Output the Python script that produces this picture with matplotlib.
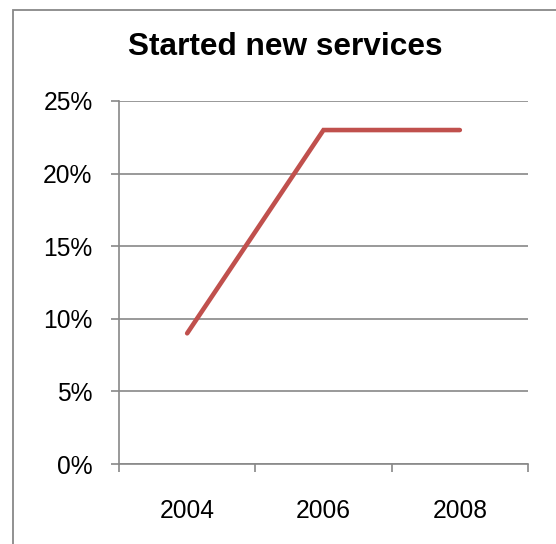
import matplotlib
matplotlib.use("Agg")
import matplotlib.pyplot as plt
import matplotlib.patches as mpatches
from matplotlib.ticker import FixedLocator, PercentFormatter

plt.rcParams["font.family"] = ["Liberation Sans", "DejaVu Sans"]

years = ["2004", "2006", "2008"]
share = [0.09, 0.23, 0.23]
y_ticks = [0.0, 0.05, 0.10, 0.15, 0.20, 0.25]

GRID = "#888888"
LINE = "#C0504D"

fig = plt.figure(figsize=(5.56, 5.44), dpi=100)
ax = fig.add_axes([119 / 556, 1 - 464 / 544, (528 - 119) / 556, (464 - 101) / 544])

x = list(range(len(years)))
ax.plot(x, share, color=LINE, lw=3.3, solid_capstyle="round", solid_joinstyle="miter", zorder=3)

ax.set_xlim(-0.5, len(years) - 0.5)
ax.set_ylim(0, 0.25)

# category boundaries get the tick marks, labels sit at the centres
ax.xaxis.set_major_locator(FixedLocator([i - 0.5 for i in range(len(years) + 1)]))
ax.xaxis.set_minor_locator(FixedLocator(x))
ax.set_xticklabels([])
ax.set_xticklabels(years, minor=True)
ax.tick_params(axis="x", which="major", length=6, width=1.2, color=GRID, direction="out")
ax.tick_params(axis="x", which="minor", length=0, pad=25, labelsize=17.7)

ax.set_yticks(y_ticks)
ax.yaxis.set_major_formatter(PercentFormatter(1.0, decimals=0))
ax.tick_params(axis="y", length=6, width=1.2, color=GRID, pad=13, labelsize=17.7)

ax.grid(axis="y", color=GRID, lw=1.2)
ax.set_axisbelow(True)
for s in ("top", "right"):
    ax.spines[s].set_visible(False)
for s in ("left", "bottom"):
    ax.spines[s].set_color(GRID)
    ax.spines[s].set_linewidth(1.2)

fig.text(285 / 556, 1 - 47 / 544, "Started new services", ha="center", va="center",
         fontsize=22.8, fontweight="bold")

# outer chart border (runs off the right and bottom edges)
border = mpatches.Rectangle((13 / 556, -0.1), 2, 1 - 10 / 544 + 0.1, transform=fig.transFigure,
                            fill=False, edgecolor=GRID, lw=1.3, clip_on=False)
fig.patches.append(border)

fig.savefig("out.png", dpi=100)
